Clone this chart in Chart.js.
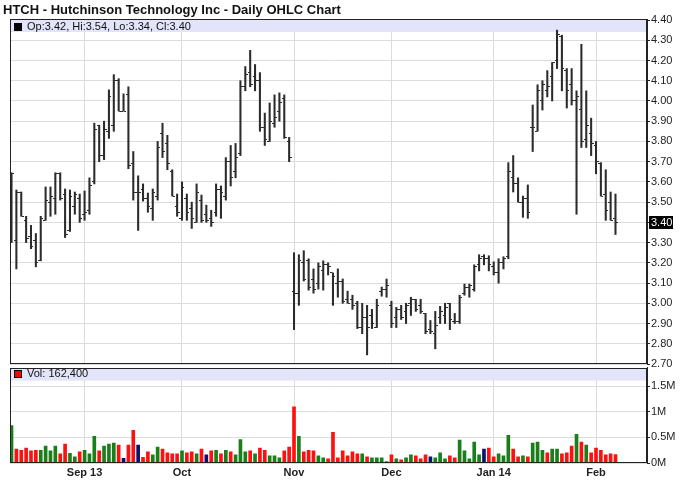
<!DOCTYPE html>
<html>
<head>
<meta charset="utf-8">
<script src="https://cdn.jsdelivr.net/npm/chart.js@4.4.1/dist/chart.umd.min.js"></script>
<style>
  body { margin: 0; background: #fff; font-family: Arial, "Liberation Sans", sans-serif; }
  #wrap { position: relative; width: 688px; height: 503px; overflow: hidden; }
  #title { position: absolute; left: 3px; top: 2px; font-size: 13px; font-weight: bold; color: #111; white-space: nowrap; z-index: 3; }
  .band { position: absolute; left: 14px; font-size: 11px; line-height: 12px; color: #111; white-space: nowrap; z-index: 3; }
  .sq { display: inline-block; width: 6px; height: 6px; border: 1px solid #000; margin-right: 5px; vertical-align: -1px; }
  canvas { position: absolute; left: 0; }
  #price { top: 0; z-index: 1; }
  #vol { top: 360px; z-index: 2; }
</style>
</head>
<body>
<div id="wrap">
  <div id="title">HTCH - Hutchinson Technology Inc - Daily OHLC Chart</div>
  <div class="band" id="ohlcText" style="top:20px"><span class="sq" style="background:#000"></span><span></span></div>
  <div class="band" id="volText" style="top:367px"><span class="sq" style="background:#f00"></span><span></span></div>
  <canvas id="price" width="688" height="372"></canvas>
  <canvas id="vol" width="688" height="143"></canvas>
</div>
<script>
// daily bars, 12 Aug 2013 .. 7 Feb 2014
const opens = [3.31,3.31,3.55,3.41,3.33,3.31,3.21,3.41,3.50,3.52,3.64,3.54,3.36,3.48,3.52,3.44,3.46,3.60,3.88,3.73,
  3.85,3.88,4.10,3.95,4.03,3.69,3.55,3.56,3.52,3.47,3.53,3.84,3.79,3.65,3.48,3.42,3.52,3.47,3.40,3.51,
  3.44,3.42,3.45,3.56,3.53,3.70,3.65,3.74,4.07,4.14,4.12,4.10,3.87,3.80,3.89,3.95,4.01,3.80,3.06,3.05,
  3.20,3.21,3.12,3.10,3.16,3.19,3.15,3.10,3.11,3.02,3.02,3.00,2.88,2.93,2.94,2.88,3.06,3.07,2.99,2.93,
  2.97,2.96,3.00,3.02,2.99,2.95,2.87,2.85,2.93,2.94,3.00,2.91,2.91,3.05,3.08,3.07,3.19,3.23,3.22,3.18,
  3.15,3.20,3.23,3.62,3.59,3.50,3.52,3.87,3.85,4.00,4.05,4.12,4.20,4.32,4.15,4.08,4.00,3.96,3.81,3.84,
  3.78,3.69,3.54,3.50,3.42];
const highs = [3.645,3.56,3.55,3.43,3.385,3.345,3.43,3.575,3.575,3.645,3.645,3.565,3.56,3.55,3.54,3.555,3.62,3.89,3.88,3.90,
  4.055,4.13,4.11,4.035,4.07,3.75,3.63,3.59,3.545,3.565,3.80,3.89,3.83,3.66,3.54,3.60,3.54,3.50,3.59,3.535,
  3.485,3.46,3.59,3.58,3.72,3.78,3.79,4.10,4.17,4.25,4.18,4.14,3.94,3.99,4.03,4.04,4.03,3.82,3.25,3.24,
  3.26,3.22,3.17,3.20,3.21,3.20,3.15,3.17,3.12,3.06,3.04,3.01,3.00,2.99,2.97,3.02,3.08,3.12,3.01,2.98,
  2.99,3.00,3.03,3.02,3.02,2.95,2.915,2.96,2.985,3.00,3.00,2.95,3.04,3.095,3.095,3.19,3.24,3.24,3.235,3.205,
  3.22,3.23,3.695,3.73,3.62,3.53,3.585,3.98,4.08,4.10,4.15,4.19,4.35,4.325,4.16,4.16,4.05,4.28,4.05,3.915,
  3.80,3.695,3.66,3.55,3.54];
const lows = [3.30,3.17,3.43,3.30,3.27,3.18,3.21,3.41,3.43,3.44,3.51,3.325,3.355,3.44,3.40,3.41,3.44,3.59,3.70,3.71,
  3.815,3.85,3.95,3.95,3.665,3.51,3.36,3.505,3.45,3.41,3.51,3.72,3.66,3.53,3.43,3.41,3.41,3.37,3.40,3.40,
  3.40,3.38,3.43,3.42,3.51,3.58,3.62,3.73,4.05,4.07,4.05,3.85,3.78,3.80,3.87,3.90,3.815,3.70,2.87,2.99,
  3.11,3.065,3.05,3.07,3.065,3.14,2.99,3.03,3.00,3.00,2.97,2.875,2.85,2.745,2.875,2.88,3.035,3.03,2.88,2.88,
  2.92,2.90,2.94,2.96,2.95,2.85,2.85,2.775,2.90,2.90,2.87,2.90,2.90,3.04,3.03,3.06,3.16,3.19,3.16,3.14,
  3.10,3.17,3.22,3.55,3.50,3.425,3.42,3.75,3.85,3.955,4.02,4.00,4.16,4.05,3.965,3.98,3.44,3.77,3.77,3.73,
  3.64,3.53,3.41,3.41,3.34];
const closes = [3.64,3.55,3.43,3.32,3.28,3.20,3.42,3.51,3.53,3.64,3.52,3.34,3.53,3.54,3.42,3.45,3.58,3.86,3.73,3.86,
  4.02,4.10,3.95,3.95,3.68,3.55,3.55,3.52,3.48,3.55,3.77,3.75,3.69,3.53,3.45,3.57,3.45,3.42,3.55,3.41,
  3.41,3.40,3.56,3.55,3.70,3.62,3.72,4.07,4.13,4.08,4.10,3.87,3.81,3.90,3.92,3.99,3.82,3.72,3.05,3.21,
  3.12,3.08,3.07,3.18,3.19,3.18,3.13,3.11,3.01,3.00,2.99,2.88,2.93,2.88,2.90,2.99,3.07,3.09,2.90,2.97,
  2.93,2.99,3.02,2.97,2.96,2.86,2.86,2.89,2.96,2.98,2.92,2.91,3.03,3.08,3.09,3.18,3.22,3.22,3.19,3.15,
  3.20,3.22,3.65,3.59,3.50,3.52,3.45,3.87,4.05,4.08,4.07,4.19,4.33,4.16,4.05,4.00,4.02,3.80,3.88,3.79,
  3.70,3.53,3.46,3.41,3.40];
const volumes = [730000,270000,250000,290000,240000,250000,250000,330000,240000,330000,180000,370000,190000,120000,220000,250000,180000,520000,240000,330000,
  370000,390000,350000,90000,350000,640000,350000,110000,220000,160000,310000,270000,200000,180000,180000,240000,200000,220000,180000,270000,
  160000,240000,250000,180000,250000,220000,160000,460000,220000,240000,180000,290000,250000,140000,140000,100000,240000,310000,1100000,520000,
  220000,250000,240000,140000,100000,80000,600000,100000,240000,140000,220000,180000,180000,120000,100000,100000,100000,30000,160000,80000,
  60000,100000,160000,140000,80000,160000,120000,100000,200000,80000,140000,100000,450000,240000,80000,410000,160000,270000,290000,120000,
  180000,140000,540000,270000,120000,140000,120000,390000,410000,250000,200000,270000,270000,180000,200000,330000,560000,410000,350000,200000,
  290000,250000,160000,180000,162400];

// month ticks: bar number of first trading day of each month
const tickBars = [16, 36, 59, 79, 100, 121];
const tickLabels = ['Sep 13', 'Oct', 'Nov', 'Dec', 'Jan 14', 'Feb'];

const priceTicks = [2.7, 2.8, 2.9, 3.0, 3.1, 3.2, 3.3, 3.4, 3.5, 3.6, 3.7, 3.8, 3.9, 4.0, 4.1, 4.2, 4.3, 4.4];
const volTicks = [0, 500000, 1000000, 1500000];

Chart.defaults.font.family = 'Arial, "Liberation Sans", sans-serif';
Chart.defaults.font.size = 11;
Chart.defaults.color = '#222';
Chart.defaults.animation = false;
Chart.defaults.devicePixelRatio = 1;

const bars = closes.map((_, i) => i + 1);
const last = closes.length - 1;

document.querySelector('#ohlcText span:last-child').textContent =
  `Op:${opens[last].toFixed(2)}, Hi:${highs[last].toFixed(2)}, Lo:${lows[last].toFixed(2)}, Cl:${closes[last].toFixed(2)}`;
document.querySelector('#volText span:last-child').textContent = 'Vol: ' + volumes[last].toLocaleString('en-US');

// little open / close ticks used as point styles
function tick(side) {
    const c = document.createElement('canvas');
    c.width = 5; c.height = 1;
    const g = c.getContext('2d');
    g.fillStyle = '#2b2b2b';
    g.fillRect(side === 'left' ? 0 : 3, 0, 2, 1);
    return c;
}

const panel = {
    id: 'panel',
    beforeDatasetsDraw(chart) {
        const a = chart.chartArea, c = chart.ctx;
        c.save();
        c.fillStyle = '#e3e3f9';
        c.fillRect(a.left + 1, a.top + 1, a.right - a.left - 2, 12);
        c.restore();
    },
    afterDraw(chart) {
        const a = chart.chartArea, c = chart.ctx;
        c.save();
        c.strokeStyle = '#222';
        c.lineWidth = 1;
        c.strokeRect(Math.round(a.left) + 0.5, Math.round(a.top) + 0.5,
            Math.round(a.right - a.left) - 1, Math.round(a.bottom - a.top) - 1);
        c.restore();
    }
};

const lastPrice = {
    id: 'lastPrice',
    afterDraw(chart) {
        const y = chart.scales.y.getPixelForValue(closes[last]);
        const c = chart.ctx;
        c.save();
        c.fillStyle = '#000';
        c.fillRect(649, Math.round(y) - 6, 24, 13);
        c.fillStyle = '#fff';
        c.font = '11px Arial, "Liberation Sans", sans-serif';
        c.textBaseline = 'middle';
        c.fillText(closes[last].toFixed(2), 651, y + 0.5);
        c.restore();
    }
};

const xAxis = (showLabels) => ({
    type: 'linear',
    min: 0.69,
    max: 131.47,
    offset: false,
    grid: { color: '#dcdcdc', offset: false, drawTicks: false },
    border: { display: false },
    afterBuildTicks: s => { s.ticks = tickBars.map(v => ({ value: v })); },
    afterFit: s => { s.height = showLabels ? 40 : 0; },
    ticks: {
        display: showLabels,
        autoSkip: false,
        maxRotation: 0,
        padding: 3,
        font: { weight: 'bold', size: 11 },
        color: '#222',
        callback: v => tickLabels[tickBars.indexOf(v)]
    }
});

new Chart(document.getElementById('price'), {
    type: 'bar',
    data: {
        datasets: [
            {
                type: 'bar',
                data: bars.map((x, i) => ({ x, y: [lows[i], highs[i]] })),
                backgroundColor: '#2b2b2b',
                barThickness: 1.4,
                order: 2
            },
            {
                type: 'scatter',
                data: bars.map((x, i) => ({ x, y: opens[i] })),
                pointStyle: tick('left'),
                pointRadius: 2,
                order: 1
            },
            {
                type: 'scatter',
                data: bars.map((x, i) => ({ x, y: closes[i] })),
                pointStyle: tick('right'),
                pointRadius: 2,
                order: 1
            }
        ]
    },
    options: {
        responsive: false,
        events: [],
        layout: { padding: { left: 10, top: 19, right: 0, bottom: 8 } },
        plugins: { legend: { display: false }, tooltip: { enabled: false } },
        scales: {
            x: xAxis(false),
            y: {
                position: 'right',
                min: 2.70,
                max: 4.405,
                grid: { color: '#dcdcdc', tickColor: '#222', tickLength: 3 },
                border: { display: true, color: '#222' },
                afterBuildTicks: s => { s.ticks = priceTicks.map(v => ({ value: v })); },
                afterFit: s => { s.width = 41; },
                ticks: { padding: 1, color: '#222', callback: v => v.toFixed(2) }
            }
        }
    },
    plugins: [panel, lastPrice]
});

new Chart(document.getElementById('vol'), {
    type: 'bar',
    data: {
        datasets: [{
            data: bars.map((x, i) => ({ x, y: volumes[i] })),
            backgroundColor: closes.map((c, i) => {
                if (i === 0) return '#1a7f1a';
                const d = Math.round(c * 100) - Math.round(closes[i - 1] * 100);
                return d > 0 ? '#1a7f1a' : d < 0 ? '#ff1010' : '#10106e';
            }),
            barThickness: 3
        }]
    },
    options: {
        responsive: false,
        events: [],
        layout: { padding: { left: 10, top: 5, right: 0, bottom: 0 } },
        plugins: { legend: { display: false }, tooltip: { enabled: false } },
        scales: {
            x: xAxis(true),
            y: {
                position: 'right',
                min: 0,
                max: 1865000,
                grid: { color: '#dcdcdc', tickColor: '#222', tickLength: 3 },
                border: { display: true, color: '#222' },
                afterBuildTicks: s => { s.ticks = volTicks.map(v => ({ value: v })); },
                afterFit: s => { s.width = 41; },
                ticks: { padding: 1, color: '#222', callback: v => (v / 1e6) + 'M' }
            }
        }
    },
    plugins: [panel]
});
</script>
</body>
</html>
